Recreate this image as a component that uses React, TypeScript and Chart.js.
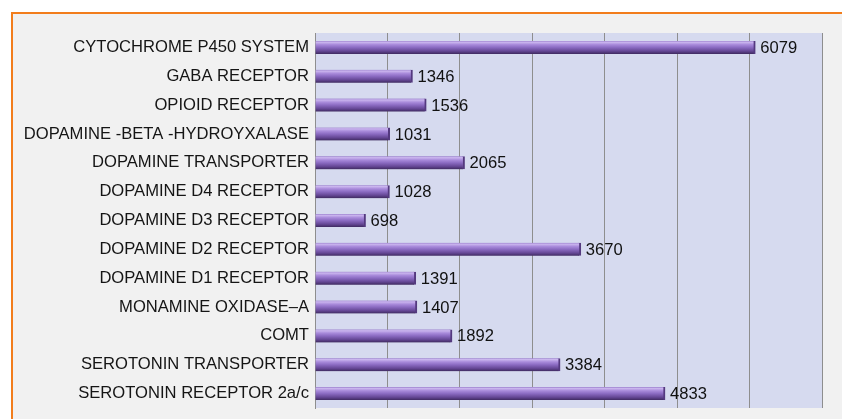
import React, { useEffect, useRef } from "react";
import { Chart, registerables } from "chart.js";

Chart.register(...registerables);

const categories = [
  "CYTOCHROME P450 SYSTEM",
  "GABA RECEPTOR",
  "OPIOID RECEPTOR",
  "DOPAMINE -BETA -HYDROYXALASE",
  "DOPAMINE TRANSPORTER",
  "DOPAMINE D4 RECEPTOR",
  "DOPAMINE D3 RECEPTOR",
  "DOPAMINE D2 RECEPTOR",
  "DOPAMINE D1 RECEPTOR",
  "MONAMINE OXIDASE\u2013A",
  "COMT",
  "SEROTONIN TRANSPORTER",
  "SEROTONIN RECEPTOR 2a/c",
];

const counts = [6079, 1346, 1536, 1031, 2065, 1028, 698, 3670, 1391, 1407, 1892, 3384, 4833];

const xMin = 0;
const xMax = 7000;
const xStep = 1000;

const FONT = '"Liberation Sans", Arial, Helvetica, sans-serif';
const FONT_SIZE = 16.6;
const BAR_THICK = 13;

export default function App() {
  const ref = useRef<HTMLCanvasElement | null>(null);

  useEffect(() => {
    if (!ref.current) return;

    const plotBg = {
      id: "plotBg",
      beforeDraw(chart: any) {
        const { ctx, chartArea } = chart;
        ctx.save();
        ctx.fillStyle = "#d6daef";
        ctx.fillRect(chartArea.left, chartArea.top, chartArea.right - chartArea.left, chartArea.bottom - chartArea.top);
        ctx.restore();
      },
    };

    const valueLabels = {
      id: "valueLabels",
      afterDatasetsDraw(chart: any) {
        const { ctx } = chart;
        const meta = chart.getDatasetMeta(0);
        ctx.save();
        ctx.font = `${FONT_SIZE}px ${FONT}`;
        ctx.fillStyle = "#111111";
        ctx.textAlign = "left";
        ctx.textBaseline = "middle";
        meta.data.forEach((el: any, i: number) => {
          ctx.fillText(String(counts[i]), el.x + 5, el.y + 1);
        });
        ctx.restore();
      },
    };

    const chart = new Chart(ref.current, {
      type: "bar",
      data: {
        labels: categories,
        datasets: [
          {
            data: counts,
            barThickness: BAR_THICK,
            backgroundColor: (c: any) => {
              const ch = c.chart;
              const ys = ch.scales && ch.scales.y;
              if (!ys || !ch.chartArea) return "#8f72c4";
              const y = ys.getPixelForValue(c.dataIndex);
              const g = ch.ctx.createLinearGradient(0, y - BAR_THICK / 2, 0, y + BAR_THICK / 2);
              g.addColorStop(0, "#9a7fcc");
              g.addColorStop(0.1, "#cbb6ef");
              g.addColorStop(0.28, "#a98bdb");
              g.addColorStop(0.5, "#8b6bc2");
              g.addColorStop(0.78, "#654795");
              g.addColorStop(1, "#3f2a60");
              return g;
            },
            borderColor: "#54397f",
            borderWidth: { top: 0, bottom: 0, left: 0, right: 2 },
            borderSkipped: false,
          },
        ],
      },
      options: {
        indexAxis: "y",
        responsive: false,
        animation: false,
        devicePixelRatio: 1,
        layout: { padding: { left: 0, right: 20, top: 33, bottom: 11 } },
        plugins: {
          legend: { display: false },
          tooltip: { enabled: false },
          title: { display: false },
        },
        scales: {
          x: {
            min: xMin,
            max: xMax,
            ticks: { display: false, stepSize: xStep },
            grid: { display: true, color: "#8e8e8e", lineWidth: 1, drawTicks: false },
            border: { display: false },
            afterFit: (s: any) => {
              s.height = 0;
              s.paddingLeft = 0;
              s.paddingRight = 0;
            },
          },
          y: {
            ticks: {
              color: "#151515",
              padding: 6,
              font: { family: FONT, size: FONT_SIZE },
              autoSkip: false,
            },
            grid: { display: false, drawTicks: false },
            border: { display: true, color: "#8e8e8e", width: 1 },
            afterFit: (s: any) => {
              s.width = 315;
              s.paddingTop = 0;
              s.paddingBottom = 0;
            },
          },
        },
      },
      plugins: [plotBg, valueLabels],
    });

    return () => chart.destroy();
  }, []);

  return (
    <div
      style={{
        position: "fixed",
        left: 0,
        top: 0,
        width: 842,
        height: 419,
        overflow: "hidden",
        background: "#ffffff",
      }}
    >
      <div
        style={{
          position: "absolute",
          left: 11,
          top: 12,
          width: 900,
          height: 500,
          border: "2px solid #f27d1c",
          background: "#f1f1f1",
          boxSizing: "border-box",
        }}
      />
      <canvas
        ref={ref}
        width={842}
        height={419}
        style={{ position: "absolute", left: 0, top: 0, width: 842, height: 419 }}
      />
    </div>
  );
}
